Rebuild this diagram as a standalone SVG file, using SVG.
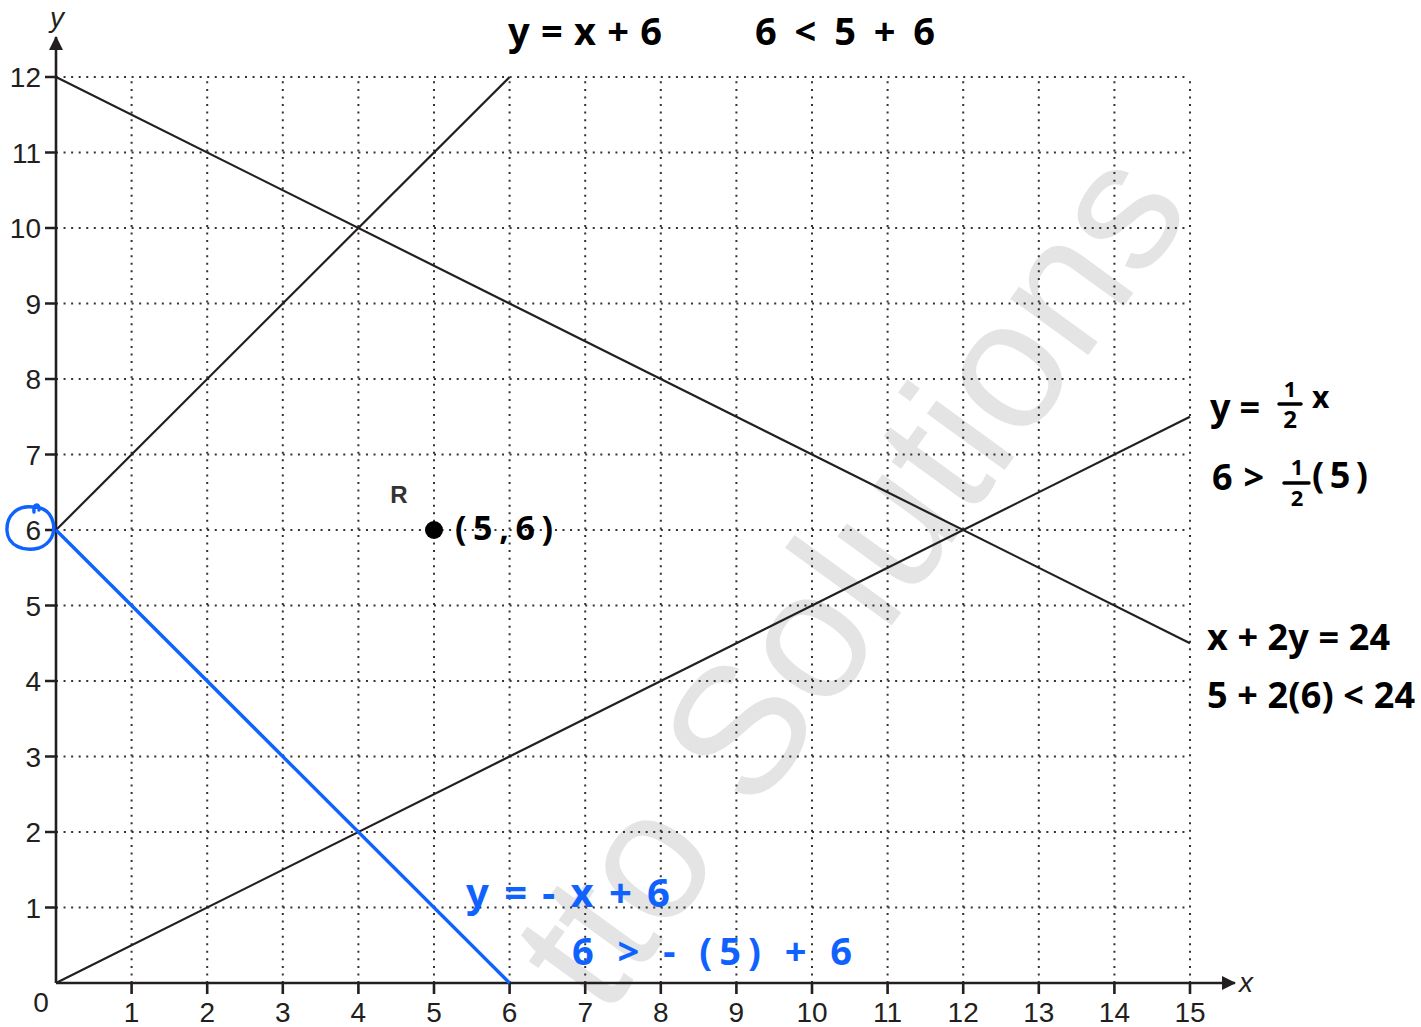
<svg xmlns="http://www.w3.org/2000/svg" width="1421" height="1027" viewBox="0 0 1421 1027">
<defs>
<style>
.grid{stroke:#333;stroke-width:2;stroke-dasharray:2 5.56;fill:none}
.axis{stroke:#231f20;stroke-width:2.6;fill:none}
.tick{stroke:#231f20;stroke-width:2.6}
.ln{stroke:#231f20;stroke-width:2.2;fill:none}
.blue{stroke:#0f62fe;stroke-width:3.4;fill:none}
.num{font-family:"Liberation Sans",Arial,sans-serif;font-size:28px;fill:#231f20}
.xl{text-anchor:middle}
.yl{text-anchor:end}
.hw{font-family:"Noto Sans","DejaVu Sans",sans-serif;font-weight:bold;fill:#000}
.hwb{font-family:"Noto Sans","DejaVu Sans",sans-serif;font-weight:bold;fill:#0f62fe}
.bar{stroke:#000;stroke-width:3.5;stroke-linecap:round}
</style>
<marker id="arr" markerWidth="14" markerHeight="14" refX="13" refY="7" orient="auto" markerUnits="userSpaceOnUse">
<path d="M0,0 L14,7 L0,14 Z" fill="#231f20"/>
</marker>
</defs>
<rect width="1421" height="1027" fill="#fff"/>
<text id="watermark" transform="translate(605,1020) rotate(-54)" font-family="Liberation Sans,Arial,sans-serif" font-size="182" fill="#e4e4e4">tto Solutions</text>
<g id="grid">
<path class="grid" d="M56 907.5H1190M56 832H1190M56 756.5H1190M56 681H1190M56 605.5H1190M56 530H1190M56 454.5H1190M56 379H1190M56 303.5H1190M56 228H1190M56 152.5H1190M56 77H1190"/>
<path class="grid" d="M131.6 983V77M207.2 983V77M282.8 983V77M358.4 983V77M434 983V77M509.6 983V77M585.2 983V77M660.8 983V77M736.4 983V77M812 983V77M887.6 983V77M963.2 983V77M1038.8 983V77M1114.4 983V77M1190 983V77"/>
</g>
<g id="axes">
<line class="axis" x1="56" y1="983" x2="1235" y2="983" marker-end="url(#arr)"/>
<line class="axis" x1="56" y1="983" x2="56" y2="37" marker-end="url(#arr)"/>
<path class="tick" d="M131.6 983V994M207.2 983V994M282.8 983V994M358.4 983V994M434 983V994M509.6 983V994M585.2 983V994M660.8 983V994M736.4 983V994M812 983V994M887.6 983V994M963.2 983V994M1038.8 983V994M1114.4 983V994M1190 983V994"/>
<path class="tick" d="M45 907.5H56M45 832H56M45 756.5H56M45 681H56M45 605.5H56M45 530H56M45 454.5H56M45 379H56M45 303.5H56M45 228H56M45 152.5H56M45 77H56"/>
<text class="num" x="57" y="27" font-style="italic" text-anchor="middle" font-size="26">y</text>
<text class="num" x="1246" y="992" font-style="italic" text-anchor="middle" font-size="26">x</text>
<text class="num xl" x="41" y="1012">0</text>
<g class="num xl">
<text x="131.6" y="1022">1</text><text x="207.2" y="1022">2</text><text x="282.8" y="1022">3</text><text x="358.4" y="1022">4</text><text x="434" y="1022">5</text><text x="509.6" y="1022">6</text><text x="585.2" y="1022">7</text><text x="660.8" y="1022">8</text><text x="736.4" y="1022">9</text><text x="812" y="1022">10</text><text x="887.6" y="1022">11</text><text x="963.2" y="1022">12</text><text x="1038.8" y="1022">13</text><text x="1114.4" y="1022">14</text><text x="1190" y="1022">15</text>
</g>
<g class="num yl">
<text x="41" y="917.5">1</text><text x="41" y="842">2</text><text x="41" y="766.5">3</text><text x="41" y="691">4</text><text x="41" y="615.5">5</text><text x="41" y="540">6</text><text x="41" y="464.5">7</text><text x="41" y="389">8</text><text x="41" y="313.5">9</text><text x="41" y="238">10</text><text x="41" y="162.5">11</text><text x="41" y="87">12</text>
</g>
</g>
<g id="connectors">
<line class="ln" x1="56" y1="77" x2="1190" y2="643.25"/>
<line class="ln" x1="56" y1="530" x2="509.6" y2="77"/>
<line class="ln" x1="56" y1="983" x2="1190" y2="416.75"/>
<line class="blue" x1="56" y1="530" x2="509.6" y2="983"/>
</g>
<g id="circle6">
<path class="blue" stroke-width="4" stroke-linecap="round" d="M34 512 C33 503 40 503 39 510 M33 507 C18 505 6 515 7 531 C8 546 24 552 39 548 C50 544 56 534 53 522 C50 511 43 507 33 507"/>
</g>
<g id="pointR">
<circle cx="434" cy="530" r="9" fill="#000"/>
<text x="399" y="503" font-family="Liberation Sans,Arial,sans-serif" font-weight="bold" font-size="24" fill="#333" text-anchor="middle">R</text>
<text class="hw" x="455" y="540" font-size="34" textLength="98">(5,6)</text>
</g>
<g id="label-top">
<text class="hw" x="508" y="45" font-size="38" textLength="154">y = x + 6</text>
<text class="hw" x="755" y="45" font-size="38" textLength="180">6 &lt; 5 + 6</text>
</g>
<g id="label-half">
<text class="hw" x="1210" y="420" font-size="36" textLength="50">y =</text>
<text class="hw" x="1290" y="397" font-size="22" text-anchor="middle">1</text>
<line class="bar" x1="1279" y1="404" x2="1301" y2="404"/>
<text class="hw" x="1290" y="428" font-size="24" text-anchor="middle">2</text>
<text class="hw" x="1312" y="408" font-size="30" textLength="25">x</text>
<text class="hw" x="1212" y="490" font-size="36" textLength="52">6 &gt;</text>
<text class="hw" x="1297" y="475" font-size="22" text-anchor="middle">1</text>
<line class="bar" x1="1284" y1="483" x2="1309" y2="483"/>
<text class="hw" x="1297" y="506" font-size="22" text-anchor="middle">2</text>
<text class="hw" x="1312" y="488" font-size="36" textLength="56">(5)</text>
</g>
<g id="label-24">
<text class="hw" x="1207" y="650" font-size="36" textLength="183">x + 2y = 24</text>
<text class="hw" x="1207" y="708" font-size="36" textLength="208">5 + 2(6) &lt; 24</text>
</g>
<g id="label-blue">
<text class="hwb" x="466" y="907" font-size="40" textLength="204">y = - x + 6</text>
<text class="hwb" x="572" y="965" font-size="38" textLength="280">6 &gt; - (5) + 6</text>
</g>
</svg>
